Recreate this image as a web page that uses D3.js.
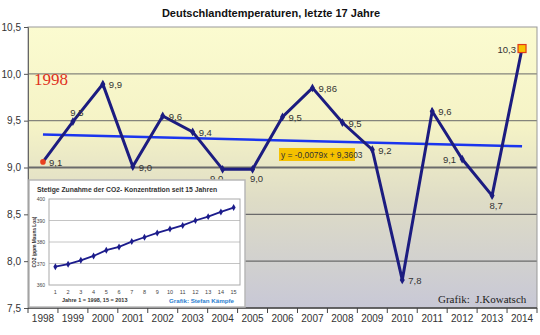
<!DOCTYPE html>
<html>
<head>
<meta charset="utf-8">
<script src="https://cdn.jsdelivr.net/npm/d3@7"></script>
<style>
  body { margin: 0; background: #fff; }
  svg { display: block; font-family: Arial, "Liberation Sans", sans-serif; }
</style>
</head>
<body>
<script>
// Main chart data
const years = ["1998","1999","2000","2001","2002","2003","2004","2005","2006","2007","2008","2009","2010","2011","2012","2013","2014"];
const temps = [9.06, 9.49, 9.89, 9.01, 9.55, 9.38, 8.98, 8.98, 9.54, 9.85, 9.48, 9.19, 7.8, 9.6, 9.09, 8.7, 10.27];
const tempLabels = ["9,1","9,5","9,9","9,0","9,6","9,4","9,0","9,0","9,5","9,86","9,5","9,2","7,8","9,6","9,1","8,7","10,3"];
const yTicks = [7.5, 8.0, 8.5, 9.0, 9.5, 10.0, 10.5];
const trendSlope = -0.0079;
const trendIntercept = 9.3603;

// Inset chart data (CO2)
const co2Years = [1,2,3,4,5,6,7,8,9,10,11,12,13,14,15];
const co2 = [368.5, 369.7, 371.5, 373.5, 376.2, 377.7, 380.2, 382.2, 384.2, 386.0, 387.7, 390.0, 391.8, 394.0, 396.0];
const co2Ticks = [360, 370, 380, 390, 400];

const w = 540, h = 335;
const svg = d3.select("body").append("svg").attr("width", w).attr("height", h);

//background gradient of the plot area
const defs = svg.append("defs");
const grad = defs.append("linearGradient").attr("id", "bg").attr("x1", 0).attr("y1", 0).attr("x2", 0).attr("y2", 1);
grad.append("stop").attr("offset", "0%").attr("stop-color", "#fbfbd0");
grad.append("stop").attr("offset", "35%").attr("stop-color", "#f5f3c6");
grad.append("stop").attr("offset", "62%").attr("stop-color", "#dedcc6");
grad.append("stop").attr("offset", "100%").attr("stop-color", "#c8c8d6");

const pLeft = 28, pRight = 537, pTop = 27, pBottom = 308;

const x = d3.scaleBand().domain(years).range([pLeft, pRight]);
const y = d3.scaleLinear().domain([7.5, 10.5]).range([pBottom, pTop]);
const cx = d => x(d) + x.bandwidth() / 2;

svg.append("rect")
  .attr("x", pLeft).attr("y", pTop)
  .attr("width", pRight - pLeft).attr("height", pBottom - pTop)
  .attr("fill", "url(#bg)");

// gridlines
svg.append("g").selectAll("line")
  .data(yTicks.slice(1, -1))
  .enter().append("line")
  .attr("x1", pLeft).attr("x2", pRight)
  .attr("y1", d => y(d)).attr("y2", d => y(d))
  .attr("stroke", d => d < 9.25 ? "#6a6a6a" : "#85857c")
  .attr("stroke-width", d => d === 9.0 ? 2 : 1.2);

svg.append("rect")
  .attr("x", pLeft).attr("y", pTop)
  .attr("width", pRight - pLeft).attr("height", pBottom - pTop)
  .attr("fill", "none").attr("stroke", "#999").attr("stroke-width", 1);

// y axis
const yAxis = d3.axisLeft(y).tickValues(yTicks).tickSize(4)
  .tickFormat(d => d3.format(".1f")(d).replace(".", ","));
const gy = svg.append("g").attr("transform", "translate(" + pLeft + ",0)").call(yAxis);
gy.select(".domain").attr("stroke", "#666");
gy.selectAll(".tick line").attr("stroke", "#555");
gy.selectAll("text").attr("font-size", 10).attr("fill", "#333").attr("font-family", "Arial, sans-serif");

// x axis: ticks on band boundaries
const gx = svg.append("g");
gx.append("line").attr("x1", pLeft).attr("x2", pRight).attr("y1", pBottom).attr("y2", pBottom)
  .attr("stroke", "#444").attr("stroke-width", 1.5);
gx.selectAll(".xt").data(years.concat(["end"]))
  .enter().append("line")
  .attr("class", "xt")
  .attr("x1", (d, i) => pLeft + i * x.step()).attr("x2", (d, i) => pLeft + i * x.step())
  .attr("y1", pBottom).attr("y2", pBottom + 5)
  .attr("stroke", "#444");
gx.selectAll(".xl").data(years)
  .enter().append("text")
  .attr("class", "xl")
  .attr("x", d => cx(d)).attr("y", 322)
  .attr("text-anchor", "middle")
  .attr("font-size", 10).attr("fill", "#333")
  .text(d => d);

// title
svg.append("text")
  .attr("x", 271).attr("y", 17)
  .attr("text-anchor", "middle")
  .attr("font-size", 11).attr("font-weight", "bold").attr("fill", "#111")
  .text("Deutschlandtemperaturen, letzte 17 Jahre");

// trend line
svg.append("line")
  .attr("x1", cx(years[0])).attr("y1", y(trendIntercept + trendSlope * 1))
  .attr("x2", cx(years[years.length - 1])).attr("y2", y(trendIntercept + trendSlope * years.length))
  .attr("stroke", "#1a35ee").attr("stroke-width", 2.5);

// temperature line
const line = d3.line().x((d, i) => cx(years[i])).y(d => y(d));
svg.append("path")
  .datum(temps)
  .attr("d", line)
  .attr("fill", "none")
  .attr("stroke", "#1c1c80")
  .attr("stroke-width", 3)
  .attr("stroke-linejoin", "miter");

svg.append("g").selectAll("path")
  .data(temps.slice(1, -1))
  .enter().append("path")
  .attr("d", d3.symbol().type(d3.symbolDiamond).size(22))
  .attr("transform", (d, i) => "translate(" + cx(years[i + 1]) + "," + y(d) + ")")
  .attr("fill", "#1c1c80");

// equation box
svg.append("rect").attr("x", 279).attr("y", 148).attr("width", 76).attr("height", 13).attr("fill", "#f5c100");
svg.append("text").attr("x", 281).attr("y", 158)
  .attr("font-size", 8.4).attr("fill", "#333")
  .text("y = -0,0079x + 9,3603");

// first and last marker
svg.append("circle").attr("cx", cx(years[0])).attr("cy", y(temps[0])).attr("r", 2.8)
  .attr("fill", "#e84020");
svg.append("rect")
  .attr("x", cx(years[16]) - 4).attr("y", y(temps[16]) - 4)
  .attr("width", 8).attr("height", 8)
  .attr("fill", "#f7c400").attr("stroke", "#e03a1a").attr("stroke-width", 1.2);

// data labels
const placement = { "1999": "above", "2004": "belowleft", "2005": "below", "2012": "left", "2013": "below", "2014": "left" };
svg.append("g").selectAll("text")
  .data(temps)
  .enter().append("text")
  .attr("font-size", 9.5).attr("fill", "#333")
  .attr("x", (d, i) => {
    const p = placement[years[i]];
    if (p === "above") return cx(years[i]) + 4;
    if (p === "below") return cx(years[i]) + 4;
    if (p === "belowleft") return cx(years[i]) - 6;
    if (p === "left") return cx(years[i]) - 6;
    return cx(years[i]) + 6;
  })
  .attr("y", (d, i) => {
    const p = placement[years[i]];
    if (p === "above") return y(d) - 6;
    if (p === "below" || p === "belowleft") return y(d) + 13;
    return y(d) + 4;
  })
  .attr("text-anchor", (d, i) => {
    const p = placement[years[i]];
    if (p === "left") return "end";
    if (p === "above" || p === "below" || p === "belowleft") return "middle";
    return "start";
  })
  .text((d, i) => tempLabels[i]);

// annotations
svg.append("text").attr("x", 34).attr("y", 85)
  .attr("font-family", "'Liberation Serif', 'DejaVu Serif', serif")
  .attr("font-size", 17).attr("fill", "#e0321e")
  .text("1998");
svg.append("text").attr("x", 438).attr("y", 303)
  .attr("font-family", "'Liberation Serif', 'DejaVu Serif', serif")
  .attr("font-size", 11).attr("fill", "#222")
  .attr("xml:space", "preserve")
  .text("Grafik:  J.Kowatsch");

// ---- inset CO2 chart ----
const inset = svg.append("g");
inset.append("rect")
  .attr("x", 29).attr("y", 180).attr("width", 216).attr("height", 127)
  .attr("fill", "#fff").attr("stroke", "#b8b8b8").attr("stroke-width", 1.5);

inset.append("text").attr("x", 127).attr("y", 192)
  .attr("text-anchor", "middle")
  .attr("font-size", 6.8).attr("font-weight", "bold").attr("fill", "#333")
  .text("Stetige Zunahme der CO2- Konzentration seit 15 Jahren");

const il = 49, ir = 240, it = 199, ib = 285;
const ix = d3.scalePoint().domain(co2Years).range([il, ir]).padding(0.5);
const iy = d3.scaleLinear().domain([360, 400]).range([ib, it]);

inset.append("g").selectAll("line")
  .data(co2Ticks.slice(1, -1))
  .enter().append("line")
  .attr("x1", il).attr("x2", ir)
  .attr("y1", d => iy(d)).attr("y2", d => iy(d))
  .attr("stroke", "#c4c4c4").attr("stroke-width", 1);
inset.append("rect")
  .attr("x", il).attr("y", it).attr("width", ir - il).attr("height", ib - it)
  .attr("fill", "none").attr("stroke", "#aaa").attr("stroke-width", 1);

inset.append("g").selectAll("text")
  .data(co2Ticks)
  .enter().append("text")
  .attr("x", il - 4).attr("y", d => iy(d) + 2)
  .attr("text-anchor", "end")
  .attr("font-size", 5).attr("fill", "#444")
  .text(d => d);

inset.append("g").selectAll("text")
  .data(co2Years)
  .enter().append("text")
  .attr("x", d => ix(d)).attr("y", 294)
  .attr("text-anchor", "middle")
  .attr("font-size", 5.5).attr("fill", "#444")
  .text(d => d);

inset.append("text")
  .attr("transform", "translate(36," + ((it + ib) / 2) + ") rotate(-90)")
  .attr("text-anchor", "middle")
  .attr("font-size", 4.8).attr("font-weight", "bold").attr("fill", "#333")
  .text("CO2 (ppm Mauna Loa)");

const iline = d3.line().x((d, i) => ix(co2Years[i])).y(d => iy(d));
inset.append("path")
  .datum(co2)
  .attr("d", iline)
  .attr("fill", "none").attr("stroke", "#1c1c8c").attr("stroke-width", 1.8);
inset.append("g").selectAll("path")
  .data(co2)
  .enter().append("path")
  .attr("d", d3.symbol().type(d3.symbolDiamond).size(14))
  .attr("transform", (d, i) => "translate(" + ix(co2Years[i]) + "," + iy(d) + ")")
  .attr("fill", "#1c1c8c");

inset.append("text").attr("x", 62).attr("y", 302)
  .attr("font-size", 5.5).attr("font-weight", "bold").attr("fill", "#333")
  .text("Jahre 1 = 1998, 15 = 2013");
inset.append("text").attr("x", 169).attr("y", 302.5)
  .attr("font-size", 6.2).attr("font-weight", "bold").attr("fill", "#2a80d0")
  .text("Grafik: Stefan Kämpfe");
</script>
</body>
</html>
